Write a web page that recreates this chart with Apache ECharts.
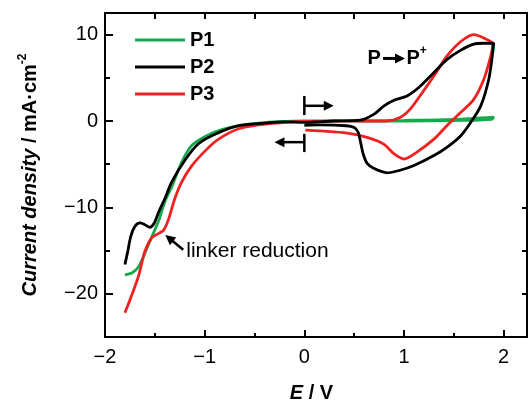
<!DOCTYPE html>
<html>
<head>
<meta charset="utf-8">
<script src="https://cdn.jsdelivr.net/npm/echarts@6/dist/echarts.min.js"></script>
<style>html,body{margin:0;padding:0;background:#fff}#c{width:528px;height:403px}</style>
</head>
<body>
<div id="c"></div>
<script>
// ---- data (E in V, J in mA/cm2), in scan order ----
const P1_E = [-1.80,-1.73,-1.66,-1.60,-1.53,-1.46,-1.40,-1.33,-1.23,-1.13,-0.99,-0.83,-0.59,-0.40,-0.20,0.00,
              0.50,1.00,1.50,1.90,1.88,1.50,1.00,0.50];
const P1_J = [-17.8,-17.6,-16.8,-15.3,-13.4,-11.5,-9.35,-7.6,-4.75,-2.84,-1.76,-1.0,-0.42,-0.18,-0.05,0.0,
              0.03,0.08,0.18,0.45,0.2,0.06,0.0,-0.02];

const P2_E = [-1.80,-1.77,-1.74,-1.70,-1.65,-1.60,-1.55,-1.51,-1.46,-1.40,-1.33,-1.19,-1.06,-0.89,-0.66,-0.40,-0.20,0.00,
              0.29,0.56,0.70,0.80,0.90,1.03,1.16,1.30,1.43,1.57,1.70,1.80,1.90,
              1.89,1.85,1.77,1.67,1.57,1.43,1.30,1.10,0.96,0.83,0.70,0.63,0.59,0.565,0.54,0.50,0.42,0.16,0.00];
const P2_J = [-16.6,-15.0,-13.3,-12.2,-11.8,-12.0,-12.3,-11.9,-10.5,-9.0,-7.05,-4.4,-2.6,-1.5,-0.54,-0.25,-0.1,-0.15,
              0.0,0.1,0.8,1.75,2.4,2.9,4.0,5.6,7.1,8.2,8.9,9.0,9.0,
              7.9,4.8,1.75,-0.15,-1.7,-3.05,-4.0,-5.15,-5.7,-6.0,-5.5,-4.9,-3.8,-2.5,-1.3,-0.75,-0.55,-0.45,-0.5];

const P3_E = [-1.80,-1.73,-1.66,-1.60,-1.53,-1.46,-1.41,-1.36,-1.30,-1.23,-1.13,-0.99,-0.86,-0.66,-0.46,-0.19,0.00,
              0.40,0.83,0.96,1.06,1.16,1.30,1.43,1.57,1.70,1.80,1.89,
              1.87,1.80,1.70,1.57,1.43,1.30,1.13,1.00,0.90,0.80,0.63,0.43,0.16,0.01];
const P3_J = [-22.2,-20.1,-17.8,-15.1,-13.5,-13.0,-12.6,-11.3,-9.0,-7.05,-5.2,-3.4,-2.1,-0.9,-0.45,-0.15,-0.05,
              -0.02,0.0,0.4,1.35,2.9,5.2,7.5,9.2,10.0,9.6,8.9,
              7.5,4.8,2.5,1.0,-0.55,-2.1,-3.6,-4.4,-3.8,-2.7,-1.9,-1.4,-1.15,-1.05];

const seriesNames = ['P1','P2','P3'];
const seriesColors = ['#16aa4c','#000000','#ee2222'];

// ---- axis ticks ----
const xMajorTicks = [-2,-1,0,1,2];
const xMinorTicks = [-1.5,-0.5,0.5,1.5];
const xTopTicks = [-1.5,-1,-0.5,0,0.5,1,1.5,2];
const yMajorTicks = [-20,-10,0,10];
const yMinorTicks = [-15,-5,5];
const yRightTicks = [-20,-15,-10,-5,0,5,10];
const X_MIN = -2, X_MAX = 2.234, Y_MIN = -25, Y_MAX = 12.5;

const FONT = '"Liberation Sans", Arial, sans-serif';
const FS = 20;
const pairs = (E,J) => E.map((e,i)=>[e,J[i]]);
const minusFmt = v => String(v).replace('-', '\u2212');

function xAx(extra){ return Object.assign({type:'value',min:X_MIN,max:X_MAX,splitLine:{show:false},
  axisLine:{show:false,onZero:false},axisLabel:{show:false},axisTick:{show:false}},extra); }
function yAx(extra){ return Object.assign({type:'value',min:Y_MIN,max:Y_MAX,splitLine:{show:false},
  axisLine:{show:false,onZero:false},axisLabel:{show:false},axisTick:{show:false}},extra); }

const tickStyle = {color:'#000',width:2};

const option = {
  animation:false,
  backgroundColor:'#fff',
  grid:{left:105,right:1,top:13,bottom:66,containLabel:false,outerBoundsMode:'none'},
  legend:{
    data:seriesNames.map(n=>({name:n,icon:'rect'})), orient:'vertical', left:135, top:30, padding:0,
    itemWidth:50, itemHeight:3, itemGap:7,
    textStyle:{fontFamily:FONT,fontSize:FS,fontWeight:'bold',color:'#000'}
  },
  xAxis:[
    xAx({position:'bottom',
      axisLine:{show:true,onZero:false,lineStyle:{color:'#000',width:2}},
      axisTick:{show:true,inside:true,length:7,lineStyle:tickStyle,customValues:xMajorTicks},
      axisLabel:{show:true,margin:10,color:'#000',fontFamily:FONT,fontSize:FS,customValues:xMajorTicks,formatter:minusFmt},
      name:'{i|E} {b|/ V}', nameLocation:'middle', nameGap:46,
      nameTextStyle:{color:'#000',fontFamily:FONT,fontSize:FS,padding:[0,9,0,0],
        rich:{i:{fontStyle:'italic',fontWeight:'bold',fontSize:FS,fontFamily:FONT,color:'#000'},
              b:{fontWeight:'bold',fontSize:FS,fontFamily:FONT,color:'#000'}}}
    }),
    xAx({position:'bottom',
      axisTick:{show:true,inside:true,length:4,lineStyle:tickStyle,customValues:xMinorTicks}}),
    xAx({position:'top',
      axisLine:{show:true,onZero:false,lineStyle:{color:'#000',width:2}},
      axisTick:{show:true,inside:true,length:6,lineStyle:tickStyle,customValues:xTopTicks}})
  ],
  yAxis:[
    yAx({position:'left',
      axisLine:{show:true,onZero:false,lineStyle:{color:'#000',width:2}},
      axisTick:{show:true,inside:true,length:8,lineStyle:tickStyle,customValues:yMajorTicks},
      axisLabel:{show:true,margin:7,color:'#000',fontFamily:FONT,fontSize:FS,customValues:yMajorTicks,formatter:minusFmt},
      name:'{i|Current density} {b|/ mA·cm}{s|-2}', nameLocation:'middle', nameGap:62, nameRotate:90,
      nameTextStyle:{color:'#000',fontFamily:FONT,fontSize:FS,
        rich:{i:{fontStyle:'italic',fontWeight:'bold',fontSize:FS,lineHeight:26,fontFamily:FONT,color:'#000'},
              b:{fontWeight:'bold',fontSize:FS,lineHeight:26,fontFamily:FONT,color:'#000'},
              s:{fontWeight:'bold',fontSize:12,fontFamily:FONT,color:'#000',verticalAlign:'top'}}}
    }),
    yAx({position:'left',
      axisTick:{show:true,inside:true,length:5,lineStyle:tickStyle,customValues:yMinorTicks}}),
    yAx({position:'right',
      axisLine:{show:true,onZero:false,lineStyle:{color:'#000',width:2}},
      axisTick:{show:true,inside:true,length:5,lineStyle:tickStyle,customValues:yRightTicks}})
  ],
  series:[
    [P1_E,P1_J],[P2_E,P2_J],[P3_E,P3_J]
  ].map((d,i)=>({
    name:seriesNames[i], type:'line', xAxisIndex:0, yAxisIndex:0,
    data:pairs(d[0],d[1]), symbol:'none', showSymbol:false, smooth:0.3,
    lineStyle:{color:seriesColors[i],width:2.8}, itemStyle:{color:seriesColors[i]},
    z:[2,4,3][i]
  }))
};

const chart = echarts.init(document.getElementById('c'));
chart.setOption(option);

// ---- annotations (positioned in data coordinates) ----
const px = (x,y) => chart.convertToPixel({xAxisIndex:0,yAxisIndex:0},[x,y]);
function arrow(a,b,headL,headW,w){
  const dx=b[0]-a[0], dy=b[1]-a[1], L=Math.hypot(dx,dy), ux=dx/L, uy=dy/L, nx=-uy, ny=ux;
  const base=[b[0]-ux*headL, b[1]-uy*headL];
  return [
    {type:'line',shape:{x1:a[0],y1:a[1],x2:base[0]+ux,y2:base[1]+uy},style:{stroke:'#000',lineWidth:w},z:10},
    {type:'polygon',shape:{points:[b,[base[0]+nx*headW/2,base[1]+ny*headW/2],[base[0]-nx*headW/2,base[1]-ny*headW/2]]},
     style:{fill:'#000'},z:10}
  ];
}
function bar(x,y1,y2){ const p1=px(x,y1),p2=px(x,y2);
  return {type:'line',shape:{x1:p1[0],y1:p1[1],x2:p2[0],y2:p2[1]},style:{stroke:'#000',lineWidth:2.5},z:10}; }

const g = [];
// scan direction markers
g.push(bar(0,2.9,0.69));
g.push(...arrow(px(0,1.76),px(0.295,1.76),10,10,2.5));
g.push(bar(0,-1.49,-3.6));
g.push(...arrow(px(0,-2.45),px(-0.30,-2.45),10,10,2.5));
// linker reduction
g.push(...arrow(px(-1.215,-14.9),px(-1.395,-13.2),10,10,2.5));
const lt = px(-1.185,-15.06);
g.push({type:'text',x:lt[0],y:lt[1],style:{text:'linker reduction',fontFamily:FONT,fontSize:21,fill:'#000',
  textVerticalAlign:'middle',textAlign:'left'},z:10});
// P -> P+
const pp = px(0.633,7.24);
g.push({type:'text',x:pp[0],y:pp[1],style:{text:'P',fontFamily:FONT,fontSize:FS,fontWeight:'bold',fill:'#000',
  textVerticalAlign:'middle',textAlign:'left'},z:10});
g.push(...arrow(px(0.79,7.24),px(1.01,7.24),10,10,3));
const pp2 = px(1.024,7.24);
g.push({type:'text',x:pp2[0],y:pp2[1],style:{text:'{p|P}{s|+}',fontFamily:FONT,fontSize:FS,fontWeight:'bold',fill:'#000',
  textVerticalAlign:'middle',textAlign:'left',
  rich:{p:{fontFamily:FONT,fontSize:FS,fontWeight:'bold',lineHeight:28,fill:'#000'},
        s:{fontFamily:FONT,fontSize:12,fontWeight:'bold',verticalAlign:'top',fill:'#000'}}},z:10});
chart.setOption({graphic:g});
</script>
</body>
</html>
